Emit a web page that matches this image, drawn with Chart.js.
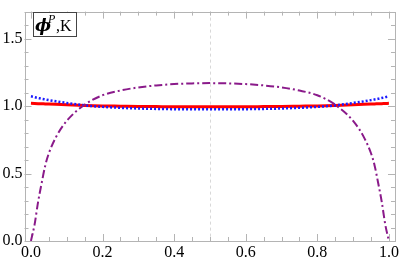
<!DOCTYPE html>
<html>
<head>
<meta charset="utf-8">
<script src="https://cdn.jsdelivr.net/npm/chart.js@4"></script>
<style>
  html, body { margin: 0; padding: 0; background: #fff; }
  #wrap { width: 401px; height: 262px; }
</style>
</head>
<body>
<div id="wrap"><canvas id="c" width="401" height="262"></canvas></div>
<script>
// ===== DATA =====
var xs = [0, 0.01, 0.02, 0.03, 0.04, 0.05, 0.07, 0.1, 0.15, 0.2, 0.25, 0.3, 0.35, 0.4, 0.45, 0.5,
          0.55, 0.6, 0.65, 0.7, 0.75, 0.8, 0.85, 0.9, 0.93, 0.95, 0.96, 0.97, 0.98, 0.99, 1.0];
var purpleVals = [0, 0.12, 0.29, 0.43, 0.56, 0.65, 0.77, 0.89, 1.01, 1.08, 1.115, 1.138, 1.153, 1.163, 1.168, 1.17,
                  1.168, 1.163, 1.153, 1.138, 1.115, 1.08, 1.01, 0.89, 0.77, 0.65, 0.56, 0.43, 0.29, 0.12, 0];
var blueVals = [1.072, 1.066, 1.06, 1.054, 1.049, 1.044, 1.035, 1.023, 1.005, 0.994, 0.987, 0.982, 0.979, 0.977, 0.976, 0.976,
                0.976, 0.977, 0.979, 0.982, 0.987, 0.994, 1.005, 1.023, 1.035, 1.044, 1.049, 1.054, 1.06, 1.066, 1.072];
var redVals = [1.02, 1.019, 1.018, 1.017, 1.016, 1.015, 1.013, 1.01, 1.005, 1.001, 0.999, 0.997, 0.996, 0.995, 0.995, 0.995,
               0.995, 0.995, 0.996, 0.997, 0.999, 1.001, 1.005, 1.01, 1.013, 1.015, 1.016, 1.017, 1.018, 1.019, 1.02];
var xTickLabels = [0, 0.2, 0.4, 0.6, 0.8, 1.0];
var yTickLabels = [0, 0.5, 1.0, 1.5];

function pts(vals) {
  return xs.map(function(x, i) { return { x: x, y: vals[i] }; });
}

// ===== FRAME + TICKS (Mathematica style, ticks pointing inward) =====
var framePlugin = {
  id: 'frame',
  beforeDatasetsDraw: function(chart) {
    var ctx = chart.ctx, a = chart.chartArea;
    var xs_ = chart.scales.x, ys_ = chart.scales.y;
    ctx.save();
    // dashed line at x = 0.5
    ctx.strokeStyle = '#d8d8d8';
    ctx.lineWidth = 1;
    ctx.setLineDash([3, 3]);
    var xm = Math.round(xs_.getPixelForValue(0.5)) + 0.5;
    ctx.beginPath(); ctx.moveTo(xm, a.top); ctx.lineTo(xm, a.bottom); ctx.stroke();
    ctx.setLineDash([]);
    ctx.strokeStyle = '#b4b4b4';
    ctx.strokeRect(Math.round(a.left) + 0.5, Math.round(a.top) + 0.5, Math.round(a.right - a.left), Math.round(a.bottom - a.top));
    ctx.beginPath();
    for (var i = 0; i <= 20; i++) {
      var v = i * 0.05;
      var px = Math.round(xs_.getPixelForValue(v)) + 0.5;
      var len = (i % 4 === 0) ? 7 : 4;
      ctx.moveTo(px, a.bottom); ctx.lineTo(px, a.bottom - len);
      ctx.moveTo(px, a.top); ctx.lineTo(px, a.top + len);
    }
    for (var j = 0; j <= 17; j++) {
      var vy = j * 0.1;
      var py = Math.round(ys_.getPixelForValue(vy)) + 0.5;
      var leny = (j % 5 === 0) ? 7 : 4;
      ctx.moveTo(a.left, py); ctx.lineTo(a.left + leny, py);
      ctx.moveTo(a.right, py); ctx.lineTo(a.right - leny, py);
    }
    ctx.stroke();
    ctx.restore();
  },
  afterDatasetsDraw: function(chart) {
    // legend label box
    var ctx = chart.ctx;
    ctx.save();
    ctx.fillStyle = '#fff';
    ctx.fillRect(33, 12, 43, 24);
    ctx.strokeStyle = '#444';
    ctx.lineWidth = 1;
    ctx.strokeRect(33.5, 12.5, 43, 24);
    ctx.fillStyle = '#000';
    ctx.textBaseline = 'alphabetic';
    ctx.font = 'bold italic 17px "DejaVu Serif"';
    ctx.fillText('\u03D5', 35, 31);
    ctx.font = 'italic 12px "Liberation Serif"';
    ctx.fillText('P', 48, 23);
    ctx.font = '16px "Liberation Serif"';
    ctx.fillText(',K', 56, 31);
    ctx.restore();
  }
};

new Chart(document.getElementById('c'), {
  type: 'line',
  data: {
    datasets: [
      {
        label: 'purple',
        data: pts(purpleVals),
        borderColor: '#8a1a8a',
        borderWidth: 2,
        borderDash: [8, 3, 2, 3],
        pointRadius: 0,
        cubicInterpolationMode: 'monotone',
        fill: false
      },
      {
        label: 'blue',
        data: pts(blueVals),
        borderColor: '#1a1aff',
        borderWidth: 2.5,
        borderDash: [2, 2],
        pointRadius: 0,
        cubicInterpolationMode: 'monotone',
        fill: false
      },
      {
        label: 'red',
        data: pts(redVals),
        borderColor: '#ff0000',
        borderWidth: 3,
        pointRadius: 0,
        cubicInterpolationMode: 'monotone',
        fill: false
      }
    ]
  },
  options: {
    responsive: false,
    animation: false,
    layout: { padding: { left: 0, right: 6, top: 1, bottom: 0 } },
    plugins: { legend: { display: false }, tooltip: { enabled: false } },
    scales: {
      x: {
        type: 'linear',
        min: -0.018,
        max: 1.017,
        grid: { display: false, drawTicks: false, tickLength: 0 },
        border: { display: false },
        afterBuildTicks: function(s) { s.ticks = xTickLabels.map(function(v) { return { value: v }; }); },
        afterFit: function(s) { s.height = 21; },
        ticks: {
          padding: 2,
          maxRotation: 0,
          color: '#000',
          font: { family: '"Liberation Serif"', size: 16 },
          callback: function(v) { return v.toFixed(1); }
        }
      },
      y: {
        min: 0,
        max: 1.7,
        grid: { display: false, drawTicks: false, tickLength: 0 },
        border: { display: false },
        afterBuildTicks: function(s) { s.ticks = yTickLabels.map(function(v) { return { value: v }; }); },
        afterFit: function(s) { s.width = 24.5; },
        ticks: {
          padding: 2,
          color: '#000',
          font: { family: '"Liberation Serif"', size: 16 },
          callback: function(v) { return v.toFixed(1); }
        }
      }
    }
  },
  plugins: [framePlugin]
});
</script>
</body>
</html>
